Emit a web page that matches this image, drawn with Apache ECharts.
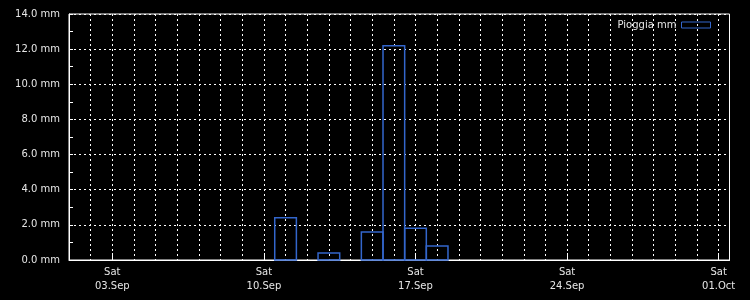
<!DOCTYPE html>
<html>
<head>
<meta charset="utf-8">
<script src="https://cdn.jsdelivr.net/npm/echarts@6/dist/echarts.min.js"></script>
<style>html,body{margin:0;padding:0;background:#000;}#c{width:750px;height:300px;}</style>
</head>
<body>
<div id="c"></div>
<script>
// Axis origin: day 0 = 01.Sep
var startDate = '2022-09-01';
var tickDays = [2, 9, 16, 23, 30];
var tickWeekdays = ['Sat', 'Sat', 'Sat', 'Sat', 'Sat'];
var tickDates = ['03.Sep', '10.Sep', '17.Sep', '24.Sep', '01.Oct'];
var rainDates = ['2022-09-11', '2022-09-13', '2022-09-15', '2022-09-16', '2022-09-17', '2022-09-18'];
var rainValues = [2.4, 0.4, 1.6, 12.2, 1.8, 0.8];
var seriesName = 'Pioggia mm';

function dayIndex(s) {
  return Math.round((Date.parse(s + 'T00:00:00Z') - Date.parse(startDate + 'T00:00:00Z')) / 86400000);
}
var data = rainDates.map(function (d, i) { return [dayIndex(d), rainValues[i]]; });

var barColor = '#3366cc';
var txt = '#e6e6e6';
var font = 'DejaVu Sans';

var chart = echarts.init(document.getElementById('c'));
chart.setOption({
  backgroundColor: '#000',
  animation: false,
  textStyle: { fontFamily: font },
  grid: { left: 69, right: 20.5, top: 14, bottom: 40, show: true, borderColor: '#fff', borderWidth: 1, containLabel: false },
  legend: {
    right: 34, top: 15, itemWidth: 29, itemHeight: 6, align: 'right', itemGap: 10,
    textStyle: { color: txt, fontSize: 10, fontFamily: font },
    data: [{ name: seriesName, icon: 'rect', itemStyle: { color: 'transparent', borderColor: barColor, borderWidth: 1 } }]
  },
  xAxis: [{
    type: 'value', position: 'bottom', offset: 0, min: 0, max: 30.5, interval: 1,
    axisLine: { show: true, lineStyle: { color: '#fff', width: 1 } },
    axisTick: { show: false },
    axisLabel: { show: false },
    splitLine: { show: true, lineStyle: { color: '#fff', type: [2, 3], width: 1 } }
  }, {
    type: 'value', position: 'bottom', offset: 0, min: 0, max: 30.5, interval: 1,
    axisLine: { show: false },
    axisTick: { show: true, inside: true, length: 7, customValues: tickDays, lineStyle: { color: '#fff' } },
    axisLabel: {
      customValues: tickDays, color: txt, fontSize: 10, fontFamily: font, lineHeight: 14, margin: 5,
      formatter: function (v) { var i = tickDays.indexOf(Math.round(v)); return i < 0 ? '' : tickWeekdays[i] + '\n' + tickDates[i]; }
    },
    splitLine: { show: false }
  }],
  yAxis: {
    type: 'value', min: 0, max: 14, interval: 2,
    axisLine: { show: true, lineStyle: { color: '#fff', width: 1 } },
    axisTick: { show: true, inside: true, length: 4, lineStyle: { color: '#fff' } },
    minorTick: { show: true, splitNumber: 2, length: 4, lineStyle: { color: '#fff' } },
    axisLabel: { color: txt, fontSize: 10, fontFamily: font, margin: 9, formatter: function (v) { return v.toFixed(1) + ' mm'; } },
    splitLine: { show: true, lineStyle: { color: '#fff', type: [2, 3], width: 1 } }
  },
  series: [{
    name: seriesName, type: 'custom', xAxisIndex: 0,
    itemStyle: { color: 'transparent', borderColor: barColor },
    renderItem: function (params, api) {
      var d = api.value(0), v = api.value(1);
      var p1 = api.coord([d - 0.5, v]);
      var p2 = api.coord([d + 0.5, 0]);
      return {
        type: 'rect',
        shape: { x: p1[0], y: p1[1], width: p2[0] - p1[0], height: p2[1] - p1[1] },
        style: { fill: null, stroke: barColor, lineWidth: 1.5 }
      };
    },
    data: data
  }]
});
</script>
</body>
</html>
